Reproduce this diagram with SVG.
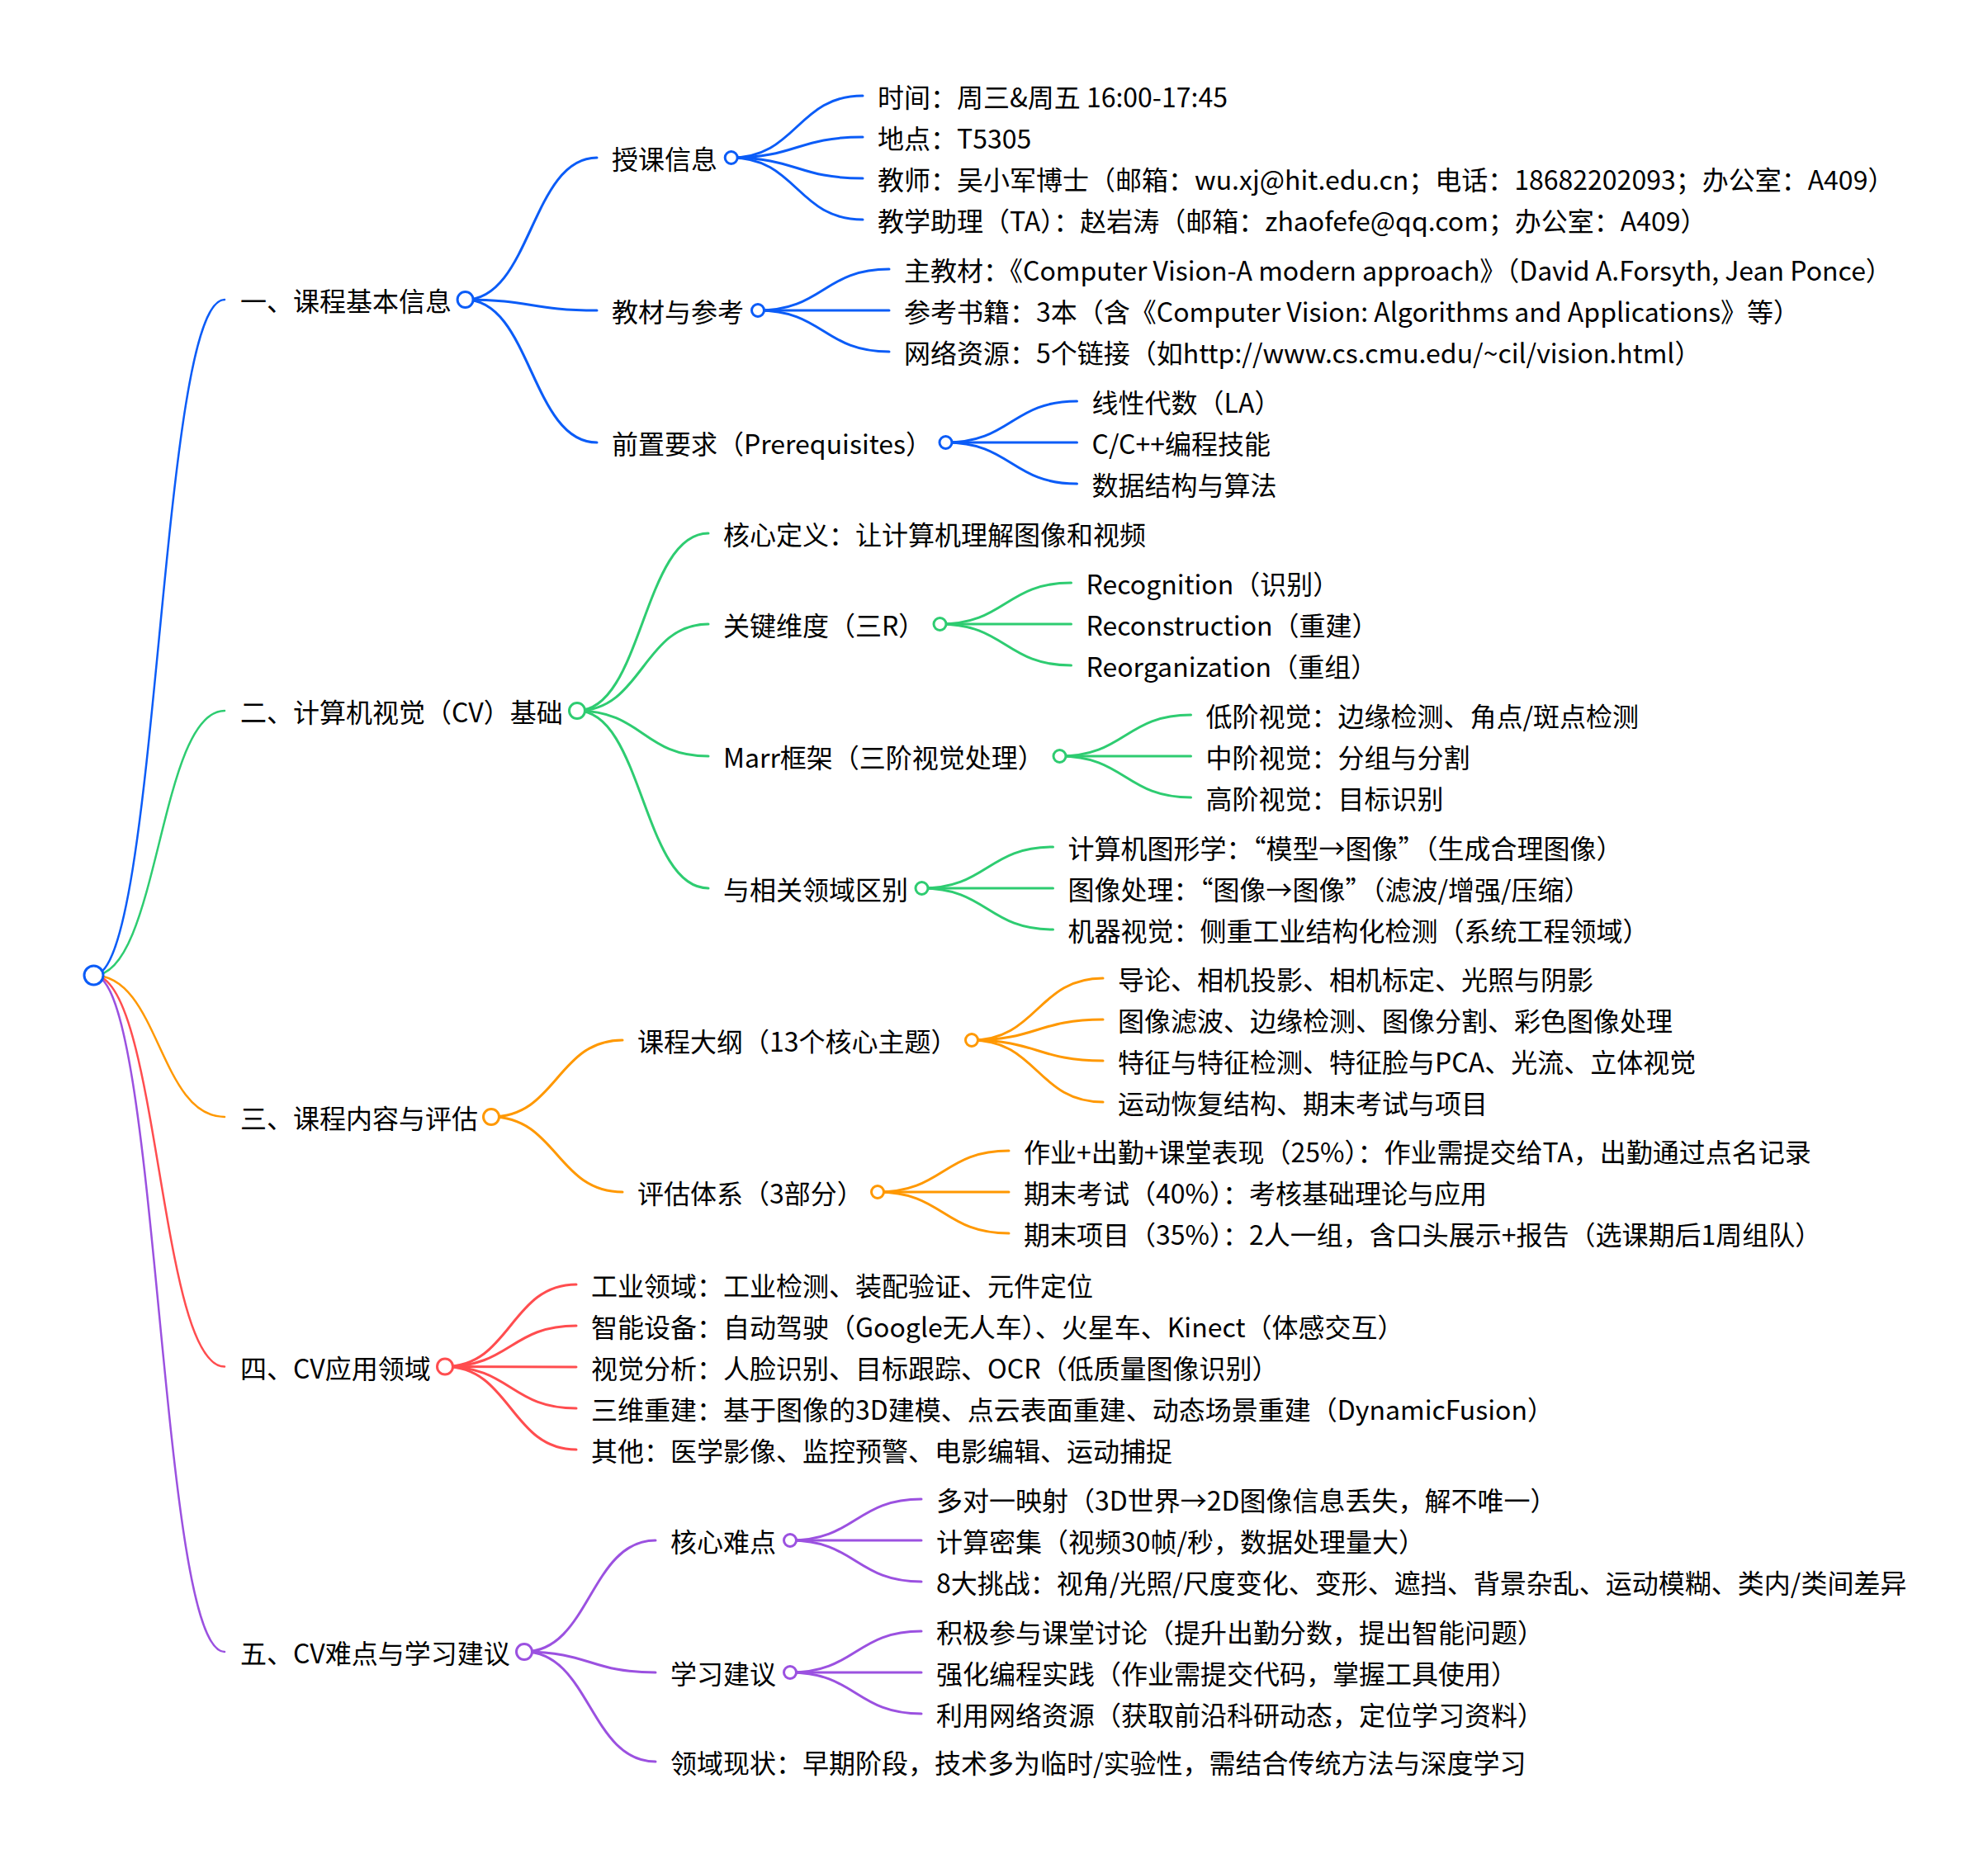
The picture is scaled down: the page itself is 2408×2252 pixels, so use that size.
<svg xmlns="http://www.w3.org/2000/svg" width="2408" height="2252" viewBox="0 0 2408 2252">
<style>
.t{font-family:"Noto Sans CJK SC","Noto Sans",sans-serif;font-size:32px;fill:#000}
.l{fill:none;stroke-width:3;stroke-linecap:round}
.r{stroke-width:2.5}
.c{fill:#fff;stroke-width:3}
.b{stroke:#0b5cf7}.g{stroke:#2ecc71}.o{stroke:#ff9800}.rd{stroke:#ff4d4f}.p{stroke:#9b51e0}
</style>
<rect width="2408" height="2252" fill="#fff"/>
<g id="connectors">
<path class="l r b" d="M113.5 1181.5C192.75 1181.5 192.75 363 272 363"/>
<path class="l r g" d="M113.5 1181.5C192.75 1181.5 192.75 861 272 861"/>
<path class="l r o" d="M113.5 1181.5C192.75 1181.5 192.75 1353 272 1353"/>
<path class="l r rd" d="M113.5 1181.5C192.75 1181.5 192.75 1655.5 272 1655.5"/>
<path class="l r p" d="M113.5 1181.5C192.75 1181.5 192.75 2001 272 2001"/>
<path class="l b" d="M563.6 363C643.3 363 643.3 191 723 191"/>
<path class="l b" d="M563.6 363C643.3 363 643.3 376 723 376"/>
<path class="l b" d="M563.6 363C643.3 363 643.3 536 723 536"/>
<path class="l b" d="M885.7 191C965.35 191 965.35 116 1045 116"/>
<path class="l b" d="M885.7 191C965.35 191 965.35 166 1045 166"/>
<path class="l b" d="M885.7 191C965.35 191 965.35 216 1045 216"/>
<path class="l b" d="M885.7 191C965.35 191 965.35 266 1045 266"/>
<path class="l b" d="M918 376C997.5 376 997.5 326 1077 326"/>
<path class="l b" d="M918 376C997.5 376 997.5 376 1077 376"/>
<path class="l b" d="M918 376C997.5 376 997.5 426 1077 426"/>
<path class="l b" d="M1145.5 536C1225 536 1225 486 1304.5 486"/>
<path class="l b" d="M1145.5 536C1225 536 1225 536 1304.5 536"/>
<path class="l b" d="M1145.5 536C1225 536 1225 586 1304.5 586"/>
<path class="l g" d="M699 861C778.5 861 778.5 646 858 646"/>
<path class="l g" d="M699 861C778.5 861 778.5 756 858 756"/>
<path class="l g" d="M699 861C778.5 861 778.5 916 858 916"/>
<path class="l g" d="M699 861C778.5 861 778.5 1076 858 1076"/>
<path class="l g" d="M1138.5 756C1218 756 1218 706 1297.5 706"/>
<path class="l g" d="M1138.5 756C1218 756 1218 756 1297.5 756"/>
<path class="l g" d="M1138.5 756C1218 756 1218 806 1297.5 806"/>
<path class="l g" d="M1283.5 916C1363 916 1363 866 1442.5 866"/>
<path class="l g" d="M1283.5 916C1363 916 1363 916 1442.5 916"/>
<path class="l g" d="M1283.5 916C1363 916 1363 966 1442.5 966"/>
<path class="l g" d="M1116.5 1076C1196 1076 1196 1026 1275.5 1026"/>
<path class="l g" d="M1116.5 1076C1196 1076 1196 1076 1275.5 1076"/>
<path class="l g" d="M1116.5 1076C1196 1076 1196 1126 1275.5 1126"/>
<path class="l o" d="M595 1353C674.5 1353 674.5 1260 754 1260"/>
<path class="l o" d="M595 1353C674.5 1353 674.5 1444 754 1444"/>
<path class="l o" d="M1177 1260C1256.5 1260 1256.5 1185 1336 1185"/>
<path class="l o" d="M1177 1260C1256.5 1260 1256.5 1235 1336 1235"/>
<path class="l o" d="M1177 1260C1256.5 1260 1256.5 1285 1336 1285"/>
<path class="l o" d="M1177 1260C1256.5 1260 1256.5 1335 1336 1335"/>
<path class="l o" d="M1063 1444C1142.5 1444 1142.5 1394 1222 1394"/>
<path class="l o" d="M1063 1444C1142.5 1444 1142.5 1444 1222 1444"/>
<path class="l o" d="M1063 1444C1142.5 1444 1142.5 1494 1222 1494"/>
<path class="l rd" d="M539 1655.5C618.5 1655.5 618.5 1556 698 1556"/>
<path class="l rd" d="M539 1655.5C618.5 1655.5 618.5 1606 698 1606"/>
<path class="l rd" d="M539 1655.5C618.5 1655.5 618.5 1656 698 1656"/>
<path class="l rd" d="M539 1655.5C618.5 1655.5 618.5 1706 698 1706"/>
<path class="l rd" d="M539 1655.5C618.5 1655.5 618.5 1756 698 1756"/>
<path class="l p" d="M635 2001C714.5 2001 714.5 1866 794 1866"/>
<path class="l p" d="M635 2001C714.5 2001 714.5 2026 794 2026"/>
<path class="l p" d="M635 2001C714.5 2001 714.5 2134 794 2134"/>
<path class="l p" d="M957 1866C1036.5 1866 1036.5 1816 1116 1816"/>
<path class="l p" d="M957 1866C1036.5 1866 1036.5 1866 1116 1866"/>
<path class="l p" d="M957 1866C1036.5 1866 1036.5 1916 1116 1916"/>
<path class="l p" d="M957 2026C1036.5 2026 1036.5 1976 1116 1976"/>
<path class="l p" d="M957 2026C1036.5 2026 1036.5 2026 1116 2026"/>
<path class="l p" d="M957 2026C1036.5 2026 1036.5 2076 1116 2076"/>
</g>
<g id="root"><circle class="c b" cx="113.5" cy="1181.5" r="11.5"/></g>
<g id="n1"><text class="t" x="291" y="377">一、课程基本信息</text><circle class="c b" cx="563.6" cy="363" r="9.5"/></g>
<g id="n1-1"><text class="t" x="741" y="205">授课信息</text><circle class="c b" cx="885.7" cy="191" r="7.5"/></g>
<g id="n1-1-1"><text class="t" x="1063" y="130">时间：周三&amp;周五 16:00-17:45</text></g>
<g id="n1-1-2"><text class="t" x="1063" y="180">地点：T5305</text></g>
<g id="n1-1-3"><text class="t" x="1063" y="230">教师：吴小军博士（邮箱：wu.xj@hit.edu.cn；电话：18682202093；办公室：A409）</text></g>
<g id="n1-1-4"><text class="t" x="1063" y="280">教学助理（TA）：赵岩涛（邮箱：zhaofefe@qq.com；办公室：A409）</text></g>
<g id="n1-2"><text class="t" x="741" y="390">教材与参考</text><circle class="c b" cx="918" cy="376" r="7.5"/></g>
<g id="n1-2-1"><text class="t" x="1095" y="340">主教材：《Computer Vision-A modern approach》（David A.Forsyth, Jean Ponce）</text></g>
<g id="n1-2-2"><text class="t" x="1095" y="390">参考书籍：3本（含《Computer Vision: Algorithms and Applications》等）</text></g>
<g id="n1-2-3"><text class="t" x="1095" y="440">网络资源：5个链接（如http://www.cs.cmu.edu/~cil/vision.html）</text></g>
<g id="n1-3"><text class="t" x="741" y="550">前置要求（Prerequisites）</text><circle class="c b" cx="1145.5" cy="536" r="7.5"/></g>
<g id="n1-3-1"><text class="t" x="1322.5" y="500">线性代数（LA）</text></g>
<g id="n1-3-2"><text class="t" x="1322.5" y="550">C/C++编程技能</text></g>
<g id="n1-3-3"><text class="t" x="1322.5" y="600">数据结构与算法</text></g>
<g id="n2"><text class="t" x="291" y="875">二、计算机视觉（CV）基础</text><circle class="c g" cx="699" cy="861" r="9.5"/></g>
<g id="n2-1"><text class="t" x="876" y="660">核心定义：让计算机理解图像和视频</text></g>
<g id="n2-2"><text class="t" x="876" y="770">关键维度（三R）</text><circle class="c g" cx="1138.5" cy="756" r="7.5"/></g>
<g id="n2-2-1"><text class="t" x="1315.5" y="720">Recognition（识别）</text></g>
<g id="n2-2-2"><text class="t" x="1315.5" y="770">Reconstruction（重建）</text></g>
<g id="n2-2-3"><text class="t" x="1315.5" y="820">Reorganization（重组）</text></g>
<g id="n2-3"><text class="t" x="876" y="930">Marr框架（三阶视觉处理）</text><circle class="c g" cx="1283.5" cy="916" r="7.5"/></g>
<g id="n2-3-1"><text class="t" x="1460.5" y="880">低阶视觉：边缘检测、角点/斑点检测</text></g>
<g id="n2-3-2"><text class="t" x="1460.5" y="930">中阶视觉：分组与分割</text></g>
<g id="n2-3-3"><text class="t" x="1460.5" y="980">高阶视觉：目标识别</text></g>
<g id="n2-4"><text class="t" x="876" y="1090">与相关领域区别</text><circle class="c g" cx="1116.5" cy="1076" r="7.5"/></g>
<g id="n2-4-1"><text class="t" x="1293.5" y="1040">计算机图形学：“模型→图像”（生成合理图像）</text></g>
<g id="n2-4-2"><text class="t" x="1293.5" y="1090">图像处理：“图像→图像”（滤波/增强/压缩）</text></g>
<g id="n2-4-3"><text class="t" x="1293.5" y="1140">机器视觉：侧重工业结构化检测（系统工程领域）</text></g>
<g id="n3"><text class="t" x="291" y="1367">三、课程内容与评估</text><circle class="c o" cx="595" cy="1353" r="9.5"/></g>
<g id="n3-1"><text class="t" x="772" y="1274">课程大纲（13个核心主题）</text><circle class="c o" cx="1177" cy="1260" r="7.5"/></g>
<g id="n3-1-1"><text class="t" x="1354" y="1199">导论、相机投影、相机标定、光照与阴影</text></g>
<g id="n3-1-2"><text class="t" x="1354" y="1249">图像滤波、边缘检测、图像分割、彩色图像处理</text></g>
<g id="n3-1-3"><text class="t" x="1354" y="1299">特征与特征检测、特征脸与PCA、光流、立体视觉</text></g>
<g id="n3-1-4"><text class="t" x="1354" y="1349">运动恢复结构、期末考试与项目</text></g>
<g id="n3-2"><text class="t" x="772" y="1458">评估体系（3部分）</text><circle class="c o" cx="1063" cy="1444" r="7.5"/></g>
<g id="n3-2-1"><text class="t" x="1240" y="1408">作业+出勤+课堂表现（25%）：作业需提交给TA，出勤通过点名记录</text></g>
<g id="n3-2-2"><text class="t" x="1240" y="1458">期末考试（40%）：考核基础理论与应用</text></g>
<g id="n3-2-3"><text class="t" x="1240" y="1508">期末项目（35%）：2人一组，含口头展示+报告（选课期后1周组队）</text></g>
<g id="n4"><text class="t" x="291" y="1669.5">四、CV应用领域</text><circle class="c rd" cx="539" cy="1655.5" r="9.5"/></g>
<g id="n4-1"><text class="t" x="716" y="1570">工业领域：工业检测、装配验证、元件定位</text></g>
<g id="n4-2"><text class="t" x="716" y="1620">智能设备：自动驾驶（Google无人车）、火星车、Kinect（体感交互）</text></g>
<g id="n4-3"><text class="t" x="716" y="1670">视觉分析：人脸识别、目标跟踪、OCR（低质量图像识别）</text></g>
<g id="n4-4"><text class="t" x="716" y="1720">三维重建：基于图像的3D建模、点云表面重建、动态场景重建（DynamicFusion）</text></g>
<g id="n4-5"><text class="t" x="716" y="1770">其他：医学影像、监控预警、电影编辑、运动捕捉</text></g>
<g id="n5"><text class="t" x="291" y="2015">五、CV难点与学习建议</text><circle class="c p" cx="635" cy="2001" r="9.5"/></g>
<g id="n5-1"><text class="t" x="812" y="1880">核心难点</text><circle class="c p" cx="957" cy="1866" r="7.5"/></g>
<g id="n5-1-1"><text class="t" x="1134" y="1830">多对一映射（3D世界→2D图像信息丢失，解不唯一）</text></g>
<g id="n5-1-2"><text class="t" x="1134" y="1880">计算密集（视频30帧/秒，数据处理量大）</text></g>
<g id="n5-1-3"><text class="t" x="1134" y="1930">8大挑战：视角/光照/尺度变化、变形、遮挡、背景杂乱、运动模糊、类内/类间差异</text></g>
<g id="n5-2"><text class="t" x="812" y="2040">学习建议</text><circle class="c p" cx="957" cy="2026" r="7.5"/></g>
<g id="n5-2-1"><text class="t" x="1134" y="1990">积极参与课堂讨论（提升出勤分数，提出智能问题）</text></g>
<g id="n5-2-2"><text class="t" x="1134" y="2040">强化编程实践（作业需提交代码，掌握工具使用）</text></g>
<g id="n5-2-3"><text class="t" x="1134" y="2090">利用网络资源（获取前沿科研动态，定位学习资料）</text></g>
<g id="n5-3"><text class="t" x="812" y="2148">领域现状：早期阶段，技术多为临时/实验性，需结合传统方法与深度学习</text></g>
</svg>
